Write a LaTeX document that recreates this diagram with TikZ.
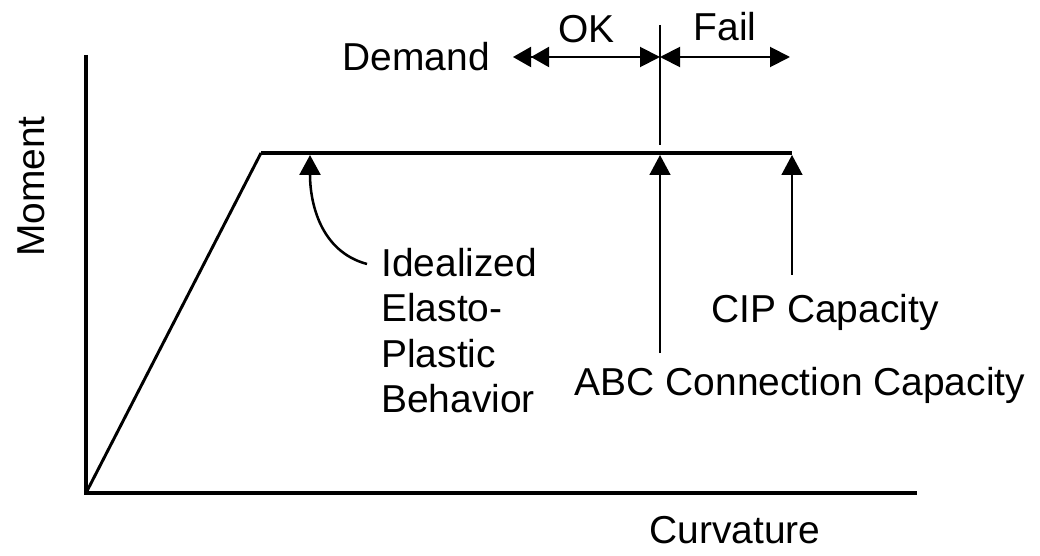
\documentclass[tikz,border=0pt]{standalone}
\usepackage{fontspec}
\setmainfont{Liberation Sans}
\usetikzlibrary{arrows.meta,positioning}

\tikzset{
  tip/.style={-{Triangle[length=5mm,width=5.25mm]}},
  lbl/.style={inner sep=0pt,font=\fontsize{27.7}{32.3}\selectfont},
}

\begin{document}
\begin{tikzpicture}
\useasboundingbox (0,0) rectangle (26,13.875);
% axes
\coordinate (O) at (2.15,1.55);
\coordinate (ytop) at (2.15,12.5);
\coordinate (xend) at (22.93,1.55);
\draw[line width=2.8pt] (ytop) -- (O) -- (xend);
\node[lbl,rotate=90] (mom) at (0.775,9.21) {Moment};
\node[lbl,anchor=base] (curv) at (18.375,0.3) {Curvature};

% elasto-plastic curve
\coordinate (Y) at (6.525,10.05);
\coordinate (P) at (19.8,10.05);
\draw[line width=2.1pt] (O) -- (Y);
\draw[line width=2.8pt] (Y) -- (P);

% demand line and OK / Fail ranges
\coordinate (dtop) at (16.5,13.25);
\coordinate (dbot) at (16.5,10.25);
\draw[line width=2.1pt] (dtop) -- (dbot);
\coordinate (dl) at (12.825,12.45);
\coordinate (dm) at (16.5,12.45);
\coordinate (fr) at (19.75,12.45);
\draw[line width=1.4pt,{Triangle[length=4.5mm,width=5mm]Triangle[length=4.5mm,width=5mm]}-{Triangle[length=5mm,width=5mm]}]
  (dl) -- (dm) node[lbl,midway,above=0.33cm] (ok) {OK};
\draw[line width=1.4pt,{Triangle[length=5mm,width=5mm]}-{Triangle[length=5mm,width=5mm]}]
  (dm) -- (fr) node[lbl,midway,above=0.37cm] (fail) {Fail};
\node[lbl,left=0.575cm of dl] (demand) {Demand};

% idealized behaviour
\coordinate (cs) at (9.175,7.275);
\coordinate (ct) at (7.75,10.0);
\draw[line width=1.8pt,tip] (cs) to[out=165,in=-90] (ct);
\node[lbl,align=left,anchor=north west] (ideal) at (9.525,7.68) {Idealized\\Elasto-\\Plastic\\Behavior};

% capacities
\coordinate (abcfoot) at (16.5,5.05);
\coordinate (abctip) at (16.5,10.0);
\draw[line width=1.1pt,tip] (abcfoot) -- (abctip);
\node[lbl] (abc) at (20.0,4.25) {ABC Connection Capacity};
\coordinate (cipfoot) at (19.8,7.0);
\coordinate (ciptip) at (19.8,10.0);
\draw[line width=1.1pt,tip] (cipfoot) -- (ciptip);
\node[lbl] (cip) at (20.625,6.075) {CIP Capacity};
\end{tikzpicture}
\end{document}
